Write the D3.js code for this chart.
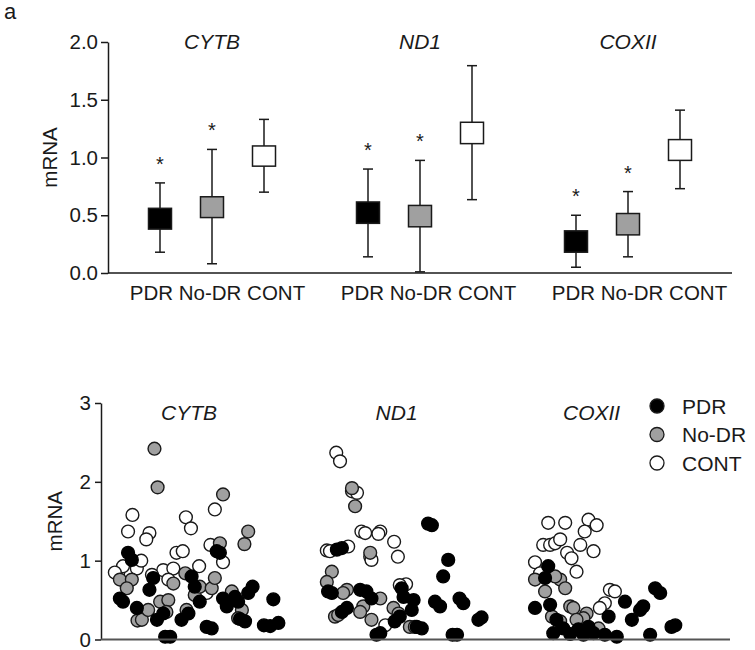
<!DOCTYPE html>
<html>
<head>
<meta charset="utf-8">
<script src="https://cdn.jsdelivr.net/npm/d3@7"></script>
<style>
  body { margin: 0; background: #fff; }
  svg { font-family: "Liberation Sans", Arial, sans-serif; }
</style>
</head>
<body>
<svg id="chart" width="755" height="650"></svg>
<script>
// ---------- DATA ----------
const genes = ["CYTB", "ND1", "COXII"];
const groups = ["PDR", "No-DR", "CONT"];
const groupFill = { "PDR": "#000000", "No-DR": "#a0a0a0", "CONT": "#ffffff" };

// Panel a (top): box = mean range, whiskers
const whiskerLow  = { CYTB: [0.18, 0.08, 0.70],  ND1: [0.14, 0.01, 0.635], COXII: [0.05, 0.14, 0.73] };
const boxLow      = { CYTB: [0.38, 0.48, 0.925], ND1: [0.43, 0.40, 1.12],  COXII: [0.18, 0.33, 0.975] };
const boxHigh     = { CYTB: [0.56, 0.66, 1.10],  ND1: [0.615, 0.585, 1.305], COXII: [0.365, 0.515, 1.155] };
const whiskerHigh = { CYTB: [0.78, 1.07, 1.33],  ND1: [0.90, 0.975, 1.795], COXII: [0.50, 0.705, 1.41] };
const significant = { CYTB: [true, true, false], ND1: [true, true, false], COXII: [true, true, false] };
const topTicks = [0, 0.5, 1.0, 1.5, 2.0];

// Bottom panel: individual samples [position, mRNA]
const scatterCONT = [
  [5.0,1.58],[4.3,1.37],[7.7,1.35],[7.2,1.27],[13.5,1.55],[14.3,1.41],[18.1,1.65],[17.4,1.20],[19.4,0.98],
  [12.0,1.10],[13.0,1.12],[2.75,0.85],[3.5,0.93],[5.7,0.90],[6.4,1.00],[9.9,0.88],[11.5,0.90],[10.7,0.76],
  [15.6,0.93],[16.8,0.59],[8.1,0.82],[2.2,0.85],
  [37.4,2.37],[38.0,2.26],[39.9,1.88],[40.7,1.86],[41.4,1.37],[42.0,1.35],[44.4,1.37],[44.1,1.34],[46.6,1.24],
  [35.9,1.13],[36.4,1.12],[39.3,1.18],[42.8,1.05],[43.0,1.01],[47.2,1.05],[48.5,0.70],[47.5,0.69],[45.2,0.18],
  [71.1,1.48],[73.8,1.48],[77.5,1.52],[78.8,1.45],[76.9,1.37],[70.3,1.20],[71.4,1.20],[72.2,1.22],[73.0,1.27],
  [76.2,1.20],[78.3,1.12],[74.1,1.10],[74.8,1.03],[69.0,0.98],[75.6,0.86],[80.9,0.63],[81.7,0.61],[80.1,0.46],
  [79.3,0.40],[69.8,0.84]
];
const scatterNoDR = [
  [8.5,2.42],[9.0,1.93],[19.4,1.84],[23.4,1.37],[22.8,1.21],[3.0,0.76],[4.9,0.76],[4.1,0.65],[5.8,0.24],
  [6.5,0.25],[7.5,0.375],[9.4,0.48],[10.7,0.50],[11.5,0.71],[10.4,0.35],[13.6,0.375],[13.4,0.84],[14.9,0.565],
  [15.7,0.67],[17.6,0.65],[18.1,0.78],[18.9,1.22],[20.8,0.61],[22.4,0.375],[21.8,0.27],
  [39.9,1.92],[40.4,1.69],[42.8,1.10],[36.7,0.86],[35.9,0.73],[39.1,0.63],[38.5,0.59],[44.4,0.52],[41.7,0.42],
  [41.2,0.35],[37.2,0.29],[37.7,0.31],[43.0,0.25],[46.5,0.40],[47.3,0.33],[49.1,0.16],[49.9,0.16],
  [69.0,0.76],[70.6,0.61],[73.0,0.76],[73.8,0.65],[72.2,0.80],[74.6,0.42],[75.1,0.40],[71.7,0.29],[77.2,0.33],
  [76.7,0.27],[75.6,0.25],[73.0,0.23],[79.1,0.14]
];
const scatterPDR = [
  [4.3,1.10],[4.9,1.01],[3.0,0.52],[3.5,0.48],[5.7,0.40],[8.3,0.78],[7.7,0.63],[8.9,0.25],[9.9,0.33],
  [10.2,0.035],[11.0,0.035],[12.8,0.25],[13.9,0.33],[14.4,0.80],[14.9,0.67],[15.7,0.48],[16.8,0.16],[17.6,0.14],
  [18.4,1.12],[18.9,1.10],[19.4,0.52],[20.0,0.42],[21.3,0.54],[21.8,0.48],[23.4,0.59],[24.1,0.67],[22.1,0.26],
  [22.9,0.23],[25.9,0.18],[26.9,0.17],[28.2,0.21],[27.4,0.51],
  [37.5,1.14],[38.3,1.16],[36.1,0.61],[36.7,0.59],[41.2,0.63],[42.2,0.61],[43.0,0.52],[38.3,0.35],[39.1,0.40],
  [47.8,0.65],[48.1,0.54],[49.7,0.50],[49.4,0.375],[47.5,0.29],[46.7,0.23],[44.4,0.08],[43.8,0.06],[50.2,0.16],
  [51.0,0.14],[52.0,1.47],[52.6,1.45],[55.2,1.01],[54.4,0.80],[53.1,0.48],[53.9,0.42],[57.0,0.52],[57.6,0.46],
  [60.0,0.25],[60.5,0.28],[55.9,0.06],[56.6,0.06],
  [71.1,0.93],[70.6,0.78],[69.0,0.40],[71.4,0.44],[72.4,0.25],[74.6,0.07],[75.9,0.13],[77.5,0.16],[76.7,0.06],
  [78.3,0.08],[80.1,0.06],[82.0,0.035],[80.7,0.29],[83.3,0.48],[84.4,0.25],[86.2,0.42],[85.7,0.375],[88.1,0.65],
  [88.9,0.59],[87.3,0.06],[91.3,0.18],[90.7,0.16],[73.5,0.14],[71.9,0.08]
];
const bottomTicks = [0, 1, 2, 3];
const geneTitlePos = [14, 47, 78];   // positions of gene titles on the sample axis

// ---------- DRAW ----------
const svg = d3.select("#chart");
const ink = "#1a1a1a";

svg.append("text").attr("x", 4).attr("y", 19).attr("font-size", 22).attr("fill", ink).text("a");

// ===== Top panel =====
const yTop = d3.scaleLinear().domain([0, 2]).range([273, 42]);
const xGene = d3.scaleBand().domain(genes).range([108, 732]);
const xGroup = d3.scalePoint().domain(groups).range([-52, 52]);
const xLabel = d3.scaleBand().domain(genes).range([112, 745]);

const topAxis = svg.append("g").attr("transform", "translate(108,0)")
  .call(d3.axisLeft(yTop).tickValues(topTicks).tickFormat(d3.format(".1f")).tickSize(7).tickSizeOuter(0).tickPadding(3));
topAxis.select(".domain").attr("stroke", ink).attr("stroke-width", 1.5);
topAxis.selectAll(".tick line").attr("stroke", ink).attr("stroke-width", 1.5);
topAxis.selectAll(".tick text").attr("font-size", 20.5).attr("fill", ink)
  .attr("font-family", "Liberation Sans, Arial, sans-serif");

svg.append("line").attr("x1", 108).attr("x2", 732).attr("y1", yTop(0)).attr("y2", yTop(0))
  .attr("stroke", ink).attr("stroke-width", 1.5);

svg.append("text").attr("transform", `translate(57,${(yTop(0)+yTop(2))/2 + 0}) rotate(-90)`)
  .attr("text-anchor", "middle").attr("font-size", 20.5).attr("fill", ink).text("mRNA");

const boxW = 23, capW = 10;
genes.forEach(g => {
  const cx0 = xGene(g) + xGene.bandwidth() / 2;
  svg.append("text").attr("x", cx0).attr("y", 49).attr("text-anchor", "middle")
    .attr("font-size", 21).attr("font-style", "italic").attr("fill", ink).text(g);
  svg.append("text").attr("x", xLabel(g) + xLabel.bandwidth() / 2).attr("y", 300)
    .attr("text-anchor", "middle").attr("font-size", 20.5).attr("fill", ink).text(groups.join(" "));
  groups.forEach((grp, i) => {
    const cx = cx0 + xGroup(grp);
    const gg = svg.append("g");
    gg.append("line").attr("x1", cx).attr("x2", cx)
      .attr("y1", yTop(whiskerLow[g][i])).attr("y2", yTop(whiskerHigh[g][i]))
      .attr("stroke", ink).attr("stroke-width", 1.5);
    [whiskerLow[g][i], whiskerHigh[g][i]].forEach(v => {
      gg.append("line").attr("x1", cx - capW / 2).attr("x2", cx + capW / 2)
        .attr("y1", yTop(v)).attr("y2", yTop(v)).attr("stroke", ink).attr("stroke-width", 1.5);
    });
    gg.append("rect").attr("x", cx - boxW / 2).attr("width", boxW)
      .attr("y", yTop(boxHigh[g][i])).attr("height", yTop(boxLow[g][i]) - yTop(boxHigh[g][i]))
      .attr("fill", groupFill[grp]).attr("stroke", ink).attr("stroke-width", 1.5);
    if (significant[g][i]) {
      gg.append("text").attr("x", cx).attr("y", yTop(whiskerHigh[g][i]) - 12)
        .attr("text-anchor", "middle").attr("font-size", 20).attr("fill", ink).text("*");
    }
  });
});

// ===== Bottom panel =====
const yB = d3.scaleLinear().domain([0, 3]).range([639.5, 403]);
const xB = d3.scaleLinear().domain([0, 100]).range([101, 730]);

const bAxis = svg.append("g").attr("transform", "translate(101,0)")
  .call(d3.axisLeft(yB).tickValues(bottomTicks).tickFormat(d3.format("d")).tickSize(6).tickSizeOuter(0).tickPadding(4));
bAxis.select(".domain").attr("stroke", ink).attr("stroke-width", 1.5);
bAxis.selectAll(".tick line").attr("stroke", ink).attr("stroke-width", 1.5);
bAxis.selectAll(".tick text").attr("font-size", 20.5).attr("fill", ink)
  .attr("font-family", "Liberation Sans, Arial, sans-serif");

svg.append("text").attr("transform", `translate(62,${(yB(0)+yB(3))/2 + 0}) rotate(-90)`)
  .attr("text-anchor", "middle").attr("font-size", 20.5).attr("fill", ink).text("mRNA");

genes.forEach((g, i) => {
  svg.append("text").attr("x", xB(geneTitlePos[i])).attr("y", 420).attr("text-anchor", "middle")
    .attr("font-size", 21).attr("font-style", "italic").attr("fill", ink).text(g);
});

const series = [
  { name: "CONT", data: scatterCONT },
  { name: "No-DR", data: scatterNoDR },
  { name: "PDR", data: scatterPDR }
];
series.forEach(s => {
  svg.append("g").selectAll("circle").data(s.data).join("circle")
    .attr("cx", d => xB(d[0])).attr("cy", d => yB(d[1])).attr("r", 6.4)
    .attr("fill", groupFill[s.name]).attr("stroke", s.name === "PDR" ? "#000" : ink).attr("stroke-width", 1.4);
});

svg.append("line").attr("x1", 101).attr("x2", 730).attr("y1", yB(0)).attr("y2", yB(0))
  .attr("stroke", "#555").attr("stroke-width", 2);

// Legend
const legend = svg.append("g");
const legY = d3.scalePoint().domain(groups).range([406, 463]);
groups.forEach(grp => {
  legend.append("circle").attr("cx", 657).attr("cy", legY(grp)).attr("r", 7)
    .attr("fill", groupFill[grp]).attr("stroke", ink).attr("stroke-width", 1.3);
  legend.append("text").attr("x", 682).attr("y", legY(grp) + 7.5).attr("font-size", 21)
    .attr("fill", ink).text(grp);
});
</script>
</body>
</html>
